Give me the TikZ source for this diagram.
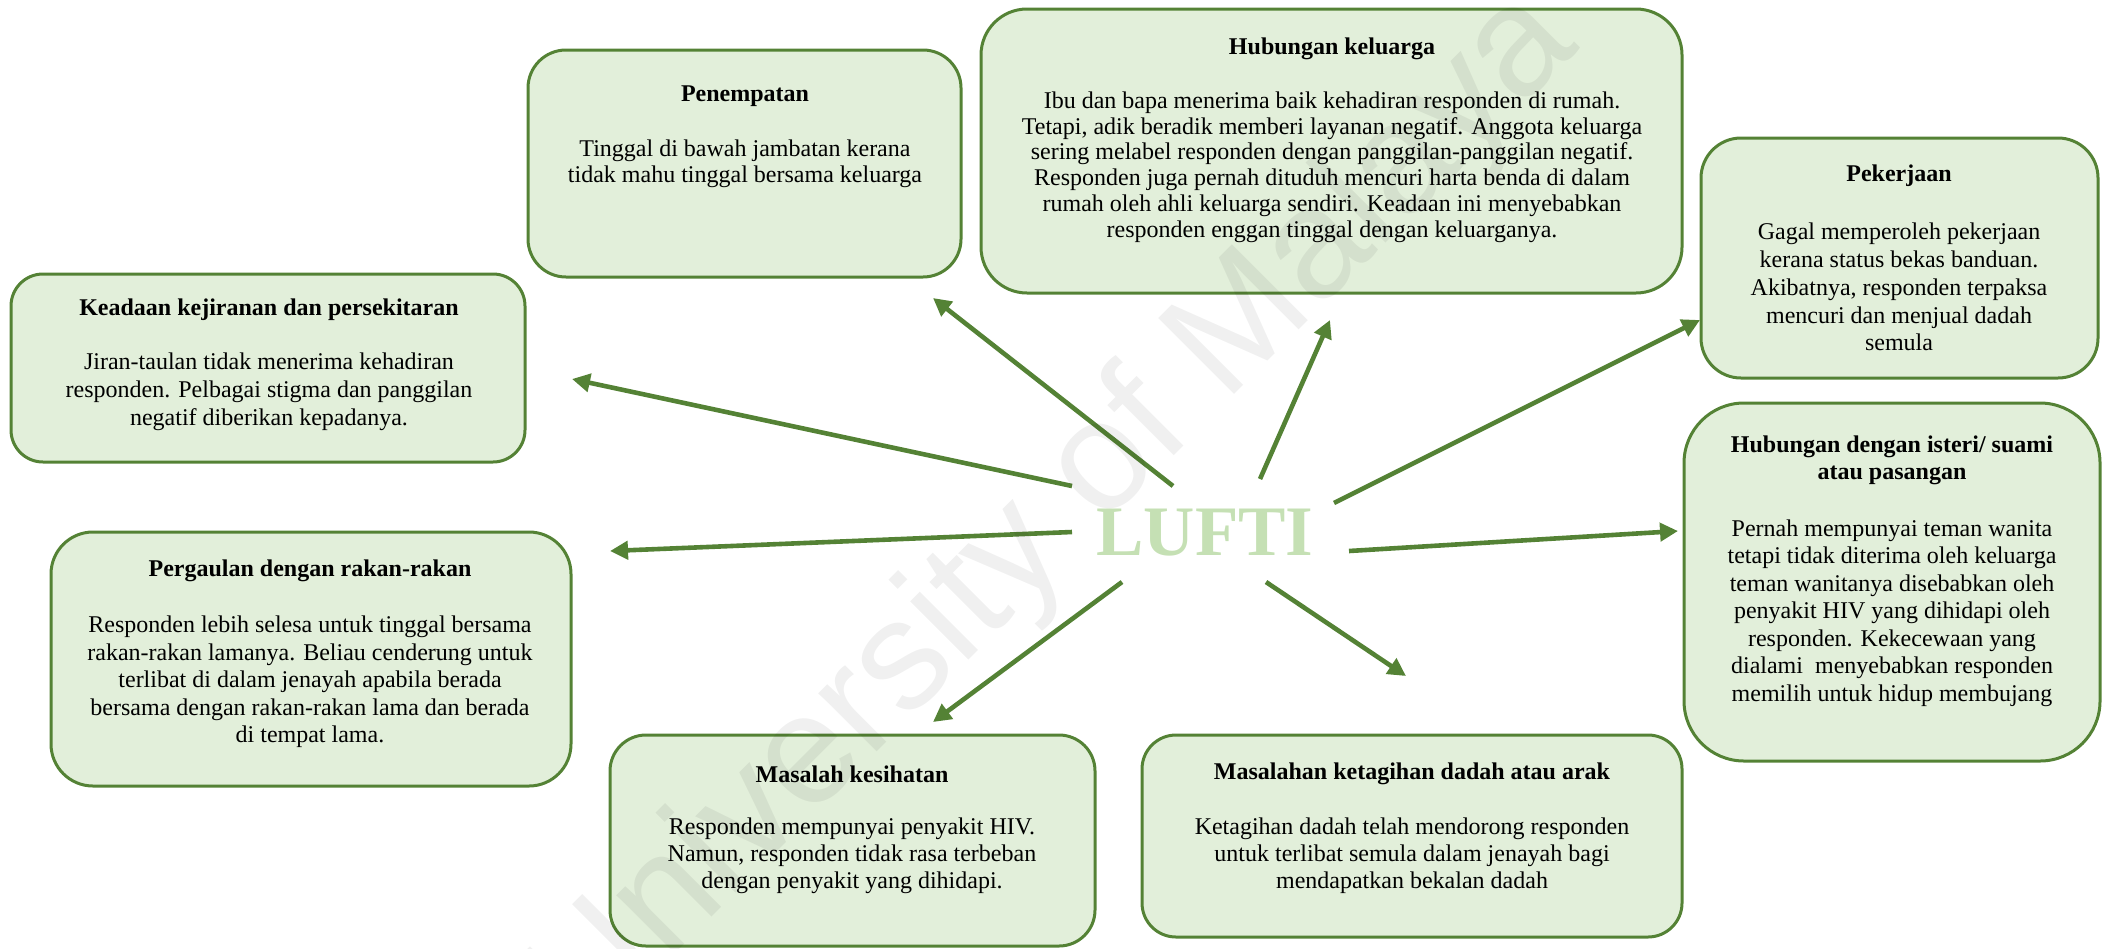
\documentclass[tikz,border=0pt]{standalone}
\usepackage{fontspec}
\setmainfont{Liberation Serif}
\setsansfont{Liberation Sans}
\usetikzlibrary{arrows.meta,fit}
\definecolor{gline}{HTML}{548235}
\definecolor{gfill}{HTML}{E2EFDA}
\definecolor{luftic}{HTML}{C5E0B4}
\tikzset{
  rbox/.style={draw=gline, fill=gfill, line width=1.5pt, rounded corners=#1, inner sep=0pt},
  ttl/.style={inner sep=0pt, align=center, font=\fontsize{12}{#1}\selectfont\bfseries},
  bdy/.style={inner sep=0pt, align=center, font=\fontsize{12}{#1}\selectfont},
  conn/.style={draw=gline, line width=2.3pt, -{Triangle[length=9pt,width=9pt]}},
}
\begin{document}
\begin{tikzpicture}[x=0.5pt,y=-0.5pt]
\useasboundingbox (0,0) rectangle (2107,948);
% boxes
\node[rbox=19pt, fit={(528,50) (961,277)}] (pen) {};
\node[rbox=23pt, fit={(981,9) (1682,293)}] (hk) {};
\node[rbox=20pt, fit={(1701,138) (2098,378)}] (pek) {};
\node[rbox=30pt, fit={(1684,403) (2100,761)}] (ist) {};
\node[rbox=16pt, fit={(11,274) (525,462)}] (kej) {};
\node[rbox=21pt, fit={(51,532) (571,786)}] (per) {};
\node[rbox=18pt, fit={(610,735) (1095,946)}] (kes) {};
\node[rbox=17pt, fit={(1142,735) (1682,937)}] (ket) {};
% texts
\node[ttl=13] (penT) at (745,96) {Penempatan};
\node[bdy=13] (penB) at (745,164) {Tinggal di bawah jambatan kerana\\tidak mahu tinggal bersama keluarga};
\node[ttl=13] (hkT) at (1332,49) {Hubungan keluarga};
\node[bdy=12.9] (hkB) at (1332,167) {Ibu dan bapa menerima baik kehadiran responden di rumah.\\Tetapi, adik beradik memberi layanan negatif. Anggota keluarga\\sering melabel responden dengan panggilan-panggilan negatif.\\Responden juga pernah dituduh mencuri harta benda di dalam\\rumah oleh ahli keluarga sendiri. Keadaan ini menyebabkan\\responden enggan tinggal dengan keluarganya.};
\node[ttl=13] (pekT) at (1899,176) {Pekerjaan};
\node[bdy=13.9] (pekB) at (1899,287) {Gagal memperoleh pekerjaan\\kerana status bekas banduan.\\Akibatnya, responden terpaksa\\mencuri dan menjual dadah\\semula};
\node[ttl=13.5] (istT) at (1892,460) {Hubungan dengan isteri/ suami\\atau pasangan};
\node[bdy=13.75] (istB) at (1892,613) {Pernah mempunyai teman wanita\\tetapi tidak diterima oleh keluarga\\teman wanitanya disebabkan oleh\\penyakit HIV yang dihidapi oleh\\responden. Kekecewaan yang\\dialami\ \ menyebabkan responden\\memilih untuk hidup membujang};
\node[ttl=13] (kejT) at (269,310) {Keadaan kejiranan dan persekitaran};
\node[bdy=14] (kejB) at (269,392) {Jiran-taulan tidak menerima kehadiran\\responden. Pelbagai stigma dan panggilan\\negatif diberikan kepadanya.};
\node[ttl=13] (perT) at (310,571) {Pergaulan dengan rakan-rakan};
\node[bdy=13.7] (perB) at (310,682) {Responden lebih selesa untuk tinggal bersama\\rakan-rakan lamanya. Beliau cenderung untuk\\terlibat di dalam jenayah apabila berada\\bersama dengan rakan-rakan lama dan berada\\di tempat lama.};
\node[ttl=13] (kesT) at (852,774) {Masalah kesihatan};
\node[bdy=13.6] (kesB) at (852,856) {Responden mempunyai penyakit HIV.\\Namun, responden tidak rasa terbeban\\dengan penyakit yang dihidapi.};
\node[ttl=13] (ketT) at (1412,774) {Masalahan ketagihan dadah atau arak};
\node[bdy=13.6] (ketB) at (1412,856) {Ketagihan dadah telah mendorong responden\\untuk terlibat semula dalam jenayah bagi\\mendapatkan bekalan dadah};
% centre
\node[inner sep=0pt, text=luftic, font=\fontsize{35.5}{36}\selectfont\bfseries] (lufti) at (1205,533) {LUFTI};
% connector ends
\coordinate (s1) at (1173,486); \coordinate (e1) at (933,298);
\coordinate (s2) at (1072,486); \coordinate (e2) at (572,379);
\coordinate (s3) at (1260,479); \coordinate (e3) at (1330,320);
\coordinate (s4) at (1334,503); \coordinate (e4) at (1700,320);
\coordinate (s5) at (1349,551); \coordinate (e5) at (1678,531);
\coordinate (s6) at (1072,532); \coordinate (e6) at (610,551);
\coordinate (s7) at (1122,582); \coordinate (e7) at (933,722);
\coordinate (s8) at (1266,582); \coordinate (e8) at (1406,676);
\draw[conn] (s1) -- (e1);
\draw[conn] (s2) -- (e2);
\draw[conn] (s3) -- (e3);
\draw[conn] (s4) -- (e4);
\draw[conn] (s5) -- (e5);
\draw[conn] (s6) -- (e6);
\draw[conn] (s7) -- (e7);
\draw[conn] (s8) -- (e8);
% watermark
\node[rotate=45, inner sep=0pt, text=black, opacity=0.06, font=\fontsize{78}{78}\sffamily] (wm) at (1056,516) {University of Malaya};
\end{tikzpicture}
\end{document}
